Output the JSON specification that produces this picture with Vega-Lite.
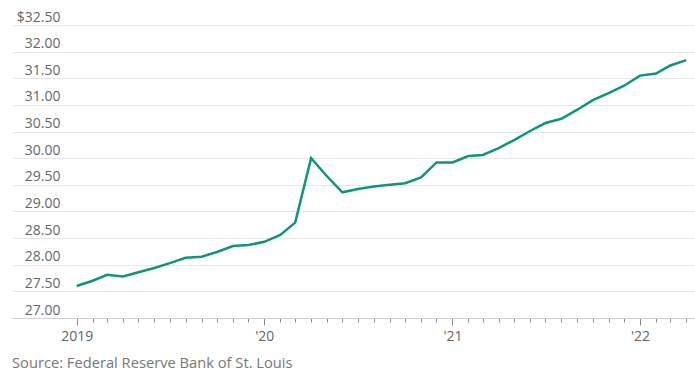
{
  "$schema": "https://vega.github.io/schema/vega-lite/v6.json",
  "width": 683,
  "height": 293,
  "autosize": "none",
  "padding": {"left": 12, "top": 25, "right": 0, "bottom": 65},
  "background": "white",
  "config": {"view": {"stroke": null}, "font": "Open Sans"},
  "title": {"text": "Source: Federal Reserve Bank of St. Louis", "orient": "bottom", "anchor": "start", "frame": "group", "offset": 13, "fontSize": 14.7, "font": "Open Sans", "fontWeight": "normal", "color": "#777777"},
  "data": {"values": [
    {"date": "2019-01-01", "value": 27.60},
    {"date": "2019-02-01", "value": 27.70},
    {"date": "2019-03-01", "value": 27.81},
    {"date": "2019-04-01", "value": 27.78},
    {"date": "2019-05-01", "value": 27.86},
    {"date": "2019-06-01", "value": 27.94},
    {"date": "2019-07-01", "value": 28.03},
    {"date": "2019-08-01", "value": 28.13},
    {"date": "2019-09-01", "value": 28.15},
    {"date": "2019-10-01", "value": 28.24},
    {"date": "2019-11-01", "value": 28.35},
    {"date": "2019-12-01", "value": 28.37},
    {"date": "2020-01-01", "value": 28.43},
    {"date": "2020-02-01", "value": 28.56},
    {"date": "2020-03-01", "value": 28.79},
    {"date": "2020-04-01", "value": 30.00},
    {"date": "2020-05-01", "value": 29.67},
    {"date": "2020-06-01", "value": 29.36},
    {"date": "2020-07-01", "value": 29.42},
    {"date": "2020-08-01", "value": 29.47},
    {"date": "2020-09-01", "value": 29.50},
    {"date": "2020-10-01", "value": 29.53},
    {"date": "2020-11-01", "value": 29.64},
    {"date": "2020-12-01", "value": 29.92},
    {"date": "2021-01-01", "value": 29.92},
    {"date": "2021-02-01", "value": 30.04},
    {"date": "2021-03-01", "value": 30.06},
    {"date": "2021-04-01", "value": 30.19},
    {"date": "2021-05-01", "value": 30.34},
    {"date": "2021-06-01", "value": 30.51},
    {"date": "2021-07-01", "value": 30.66},
    {"date": "2021-08-01", "value": 30.74},
    {"date": "2021-09-01", "value": 30.91},
    {"date": "2021-10-01", "value": 31.09},
    {"date": "2021-11-01", "value": 31.22},
    {"date": "2021-12-01", "value": 31.36},
    {"date": "2022-01-01", "value": 31.55},
    {"date": "2022-02-01", "value": 31.59},
    {"date": "2022-03-01", "value": 31.74},
    {"date": "2022-04-01", "value": 31.84}
  ]},
  "mark": {"type": "line", "color": "#11937f", "strokeWidth": 2.5, "strokeJoin": "miter"},
  "encoding": {
    "x": {
      "field": "date", "type": "temporal",
      "scale": {"type": "utc", "domain": [{"year": 2018, "month": 8, "date": 28, "utc": true}, {"year": 2022, "month": 4, "date": 18, "utc": true}]},
      "axis": {
        "title": null,
        "grid": false,
        "domainColor": "#d0d0d0",
        "domainWidth": 1,
        "tickColor": "#8a8a8a",
        "tickWidth": 1,
        "tickSize": {"condition": {"test": "utcmonth(datum.value) === 0", "value": 7}, "value": 4},
        "labelPadding": 4,
        "labelFontSize": 14,
        "labelColor": "#666666",
        "labelFont": "Open Sans",
        "labelExpr": "utcmonth(datum.value) !== 0 ? '' : (utcyear(datum.value) === 2019 ? '2019' : \"'\" + substring(toString(utcyear(datum.value)), 2, 4))",
        "labelOverlap": false,
        "labelFlush": false,
        "values": [
          {"year": 2019, "month": 1, "date": 1, "utc": true}, {"year": 2019, "month": 2, "date": 1, "utc": true}, {"year": 2019, "month": 3, "date": 1, "utc": true}, {"year": 2019, "month": 4, "date": 1, "utc": true},
          {"year": 2019, "month": 5, "date": 1, "utc": true}, {"year": 2019, "month": 6, "date": 1, "utc": true}, {"year": 2019, "month": 7, "date": 1, "utc": true}, {"year": 2019, "month": 8, "date": 1, "utc": true},
          {"year": 2019, "month": 9, "date": 1, "utc": true}, {"year": 2019, "month": 10, "date": 1, "utc": true}, {"year": 2019, "month": 11, "date": 1, "utc": true}, {"year": 2019, "month": 12, "date": 1, "utc": true},
          {"year": 2020, "month": 1, "date": 1, "utc": true}, {"year": 2020, "month": 2, "date": 1, "utc": true}, {"year": 2020, "month": 3, "date": 1, "utc": true}, {"year": 2020, "month": 4, "date": 1, "utc": true},
          {"year": 2020, "month": 5, "date": 1, "utc": true}, {"year": 2020, "month": 6, "date": 1, "utc": true}, {"year": 2020, "month": 7, "date": 1, "utc": true}, {"year": 2020, "month": 8, "date": 1, "utc": true},
          {"year": 2020, "month": 9, "date": 1, "utc": true}, {"year": 2020, "month": 10, "date": 1, "utc": true}, {"year": 2020, "month": 11, "date": 1, "utc": true}, {"year": 2020, "month": 12, "date": 1, "utc": true},
          {"year": 2021, "month": 1, "date": 1, "utc": true}, {"year": 2021, "month": 2, "date": 1, "utc": true}, {"year": 2021, "month": 3, "date": 1, "utc": true}, {"year": 2021, "month": 4, "date": 1, "utc": true},
          {"year": 2021, "month": 5, "date": 1, "utc": true}, {"year": 2021, "month": 6, "date": 1, "utc": true}, {"year": 2021, "month": 7, "date": 1, "utc": true}, {"year": 2021, "month": 8, "date": 1, "utc": true},
          {"year": 2021, "month": 9, "date": 1, "utc": true}, {"year": 2021, "month": 10, "date": 1, "utc": true}, {"year": 2021, "month": 11, "date": 1, "utc": true}, {"year": 2021, "month": 12, "date": 1, "utc": true},
          {"year": 2022, "month": 1, "date": 1, "utc": true}, {"year": 2022, "month": 2, "date": 1, "utc": true}, {"year": 2022, "month": 3, "date": 1, "utc": true}, {"year": 2022, "month": 4, "date": 1, "utc": true}
        ]
      }
    },
    "y": {
      "field": "value", "type": "quantitative",
      "scale": {"domain": [27, 32.5], "nice": false, "zero": false},
      "axis": {
        "title": null,
        "values": [27, 27.5, 28, 28.5, 29, 29.5, 30, 30.5, 31, 31.5, 32, 32.5],
        "grid": true,
        "gridColor": "#e6e6e6",
        "gridWidth": 1,
        "domain": false,
        "ticks": false,
        "labelAlign": "right",
        "labelBaseline": "alphabetic",
        "labelPadding": -48,
        "labelOffset": -4,
        "labelFontSize": 14,
        "labelColor": "#666666",
        "labelFont": "Open Sans",
        "labelExpr": "datum.value === 32.5 ? '$32.50' : format(datum.value, '.2f')"
      }
    }
  }
}
